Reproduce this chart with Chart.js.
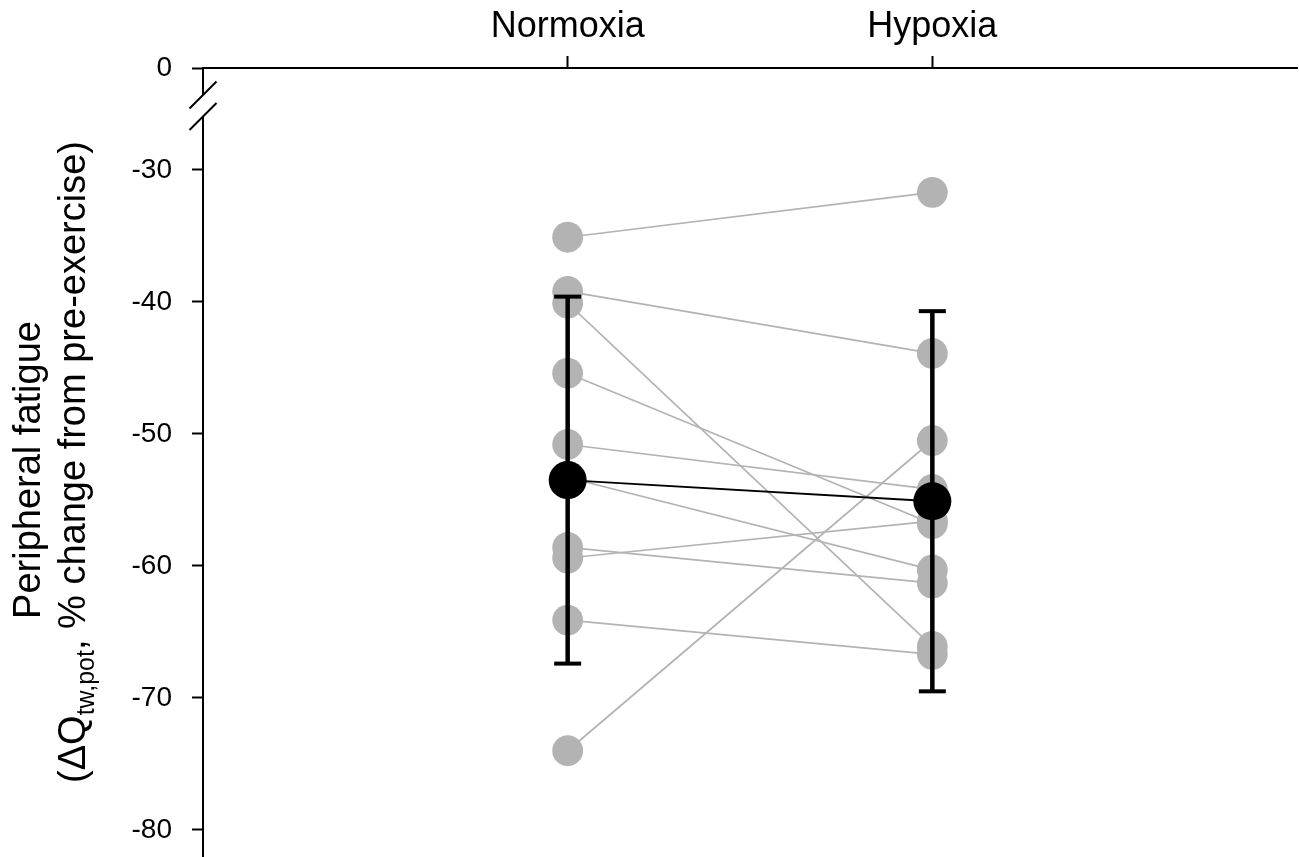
<!DOCTYPE html>
<html>
<head>
<meta charset="utf-8">
<script src="https://cdn.jsdelivr.net/npm/chart.js@4.4.1/dist/chart.umd.min.js"></script>
<style>
  html, body { margin: 0; padding: 0; background: #fff; }
  canvas { display: block; }
</style>
</head>
<body>
<canvas id="chart" width="1299" height="857"></canvas>
<script>
// Conditions and individual responses (same subject order in both arrays)
const conditions = ['Normoxia', 'Hypoxia'];
const normoxia = [-35.1, -39.2, -40.1, -45.4, -50.8, -53.3, -58.6, -59.4, -64.1, -74.0];
const hypoxia  = [-31.7, -43.9, -66.1, -56.8, -54.2, -60.3, -61.3, -56.6, -66.7, -50.5];

// Group mean and SD per condition
const groupMean = [-53.5, -55.1];
const groupSD   = [13.9, 14.4];

// Y tick labels; 0 sits above an axis break
const yTickLabels = [0, -30, -40, -50, -60, -70, -80];

// Broken axis: "0" is placed just above the break, everything else on its own value
const BREAK_ZERO = -22.28;
const Y_MIN = -82.05;
const toAxis = v => (v === 0 ? BREAK_ZERO : v);

const FONT = '"Liberation Sans", Arial, Helvetica, sans-serif';
const GRAY = '#b3b3b3';

const datasets = [];

// group means joined by a black line (drawn on top)
datasets.push({
  data: groupMean.map((m, i) => ({ x: i + 1, y: m })),
  borderColor: '#000',
  borderWidth: 1.9,
  pointRadius: 19,
  pointBackgroundColor: '#000',
  pointBorderWidth: 0,
  order: 0
});

// SD error bars: vertical line with flat caps
groupMean.forEach((m, i) => {
  datasets.push({
    data: [{ x: i + 1, y: m + groupSD[i] }, { x: i + 1, y: m - groupSD[i] }],
    borderColor: '#000',
    borderWidth: 4.5,
    borderCapStyle: 'butt',
    pointStyle: 'line',
    pointRadius: 13.5,
    pointBorderWidth: 4,
    pointBorderColor: '#000',
    order: 1
  });
});

// individual subjects
normoxia.forEach((n, i) => {
  datasets.push({
    data: [{ x: 1, y: n }, { x: 2, y: hypoxia[i] }],
    borderColor: GRAY,
    borderWidth: 1.7,
    pointRadius: 15.4,
    pointBackgroundColor: GRAY,
    pointBorderWidth: 0,
    order: 2
  });
});

// axis break marks and the two-line y title with subscript
const decorations = {
  id: 'decorations',
  afterDraw(chart) {
    const { ctx } = chart;
    const y = chart.scales.y;
    const ax = y.right;
    const top = y.getPixelForValue(BREAK_ZERO);
    const b1 = top + 27, b2 = top + 48.5;

    ctx.save();
    ctx.fillStyle = '#fff';
    ctx.fillRect(ax - 3, b1, 6, b2 - b1);
    ctx.strokeStyle = '#000';
    ctx.lineWidth = 2;
    [b1, b2].forEach(c => {
      ctx.beginPath();
      ctx.moveTo(ax - 13.5, c + 13.5);
      ctx.lineTo(ax + 13.5, c - 13.5);
      ctx.stroke();
    });
    ctx.restore();

    const size = 38, sub = 25;
    ctx.save();
    ctx.fillStyle = '#000';
    ctx.textBaseline = 'alphabetic';

    // line 1
    ctx.save();
    ctx.translate(40, 470);
    ctx.rotate(-Math.PI / 2);
    ctx.font = `${size}px ${FONT}`;
    ctx.textAlign = 'center';
    ctx.fillText('Peripheral fatigue', 0, 0);
    ctx.restore();

    // line 2 with subscript
    const p1 = '(\u0394Q', ps = 'tw,pot', p2 = ', % change from pre-exercise)';
    ctx.save();
    ctx.translate(85, 462);
    ctx.rotate(-Math.PI / 2);
    ctx.textAlign = 'left';
    ctx.font = `${size}px ${FONT}`;
    const w1 = ctx.measureText(p1).width;
    const w2 = ctx.measureText(p2).width;
    ctx.font = `${sub}px ${FONT}`;
    const ws = ctx.measureText(ps).width;
    let x = -(w1 + ws + w2) / 2;
    ctx.font = `${size}px ${FONT}`;
    ctx.fillText(p1, x, 0); x += w1;
    ctx.font = `${sub}px ${FONT}`;
    ctx.fillText(ps, x, 9); x += ws;
    ctx.font = `${size}px ${FONT}`;
    ctx.fillText(p2, x, 0);
    ctx.restore();

    ctx.restore();
  }
};

new Chart(document.getElementById('chart'), {
  type: 'line',
  data: { datasets },
  options: {
    responsive: false,
    animation: false,
    events: [],
    layout: { autoPadding: false, padding: { top: 0, left: 0, right: 2, bottom: 0 } },
    plugins: { legend: { display: false }, tooltip: { enabled: false } },
    scales: {
      x: {
        type: 'linear',
        position: 'top',
        min: 0,
        max: 3,
        afterBuildTicks: s => { s.ticks = conditions.map((c, i) => ({ value: i + 1 })); },
        ticks: {
          callback: v => conditions[v - 1],
          font: { family: FONT, size: 36 },
          color: '#000',
          padding: 7,
          maxRotation: 0,
          autoSkip: false
        },
        grid: { drawOnChartArea: false, tickLength: 12, tickWidth: 2, tickColor: '#000' },
        border: { display: true, color: '#000', width: 2 },
        afterFit: s => { s.height = 68; s.paddingLeft = 0; s.paddingRight = 0; }
      },
      y: {
        type: 'linear',
        min: Y_MIN,
        max: BREAK_ZERO,
        afterBuildTicks: s => { s.ticks = yTickLabels.map(v => ({ value: toAxis(v) })); },
        ticks: {
          callback: v => String(yTickLabels.find(t => toAxis(t) === v)),
          font: { family: FONT, size: 28 },
          color: '#000',
          padding: 20,
          autoSkip: false
        },
        grid: { drawOnChartArea: false, tickLength: 11, tickWidth: 2, tickColor: '#000' },
        border: { display: true, color: '#000', width: 2 },
        afterFit: s => { s.width = 203; s.paddingTop = 0; s.paddingBottom = 0; }
      }
    }
  },
  plugins: [decorations]
});
</script>
</body>
</html>
